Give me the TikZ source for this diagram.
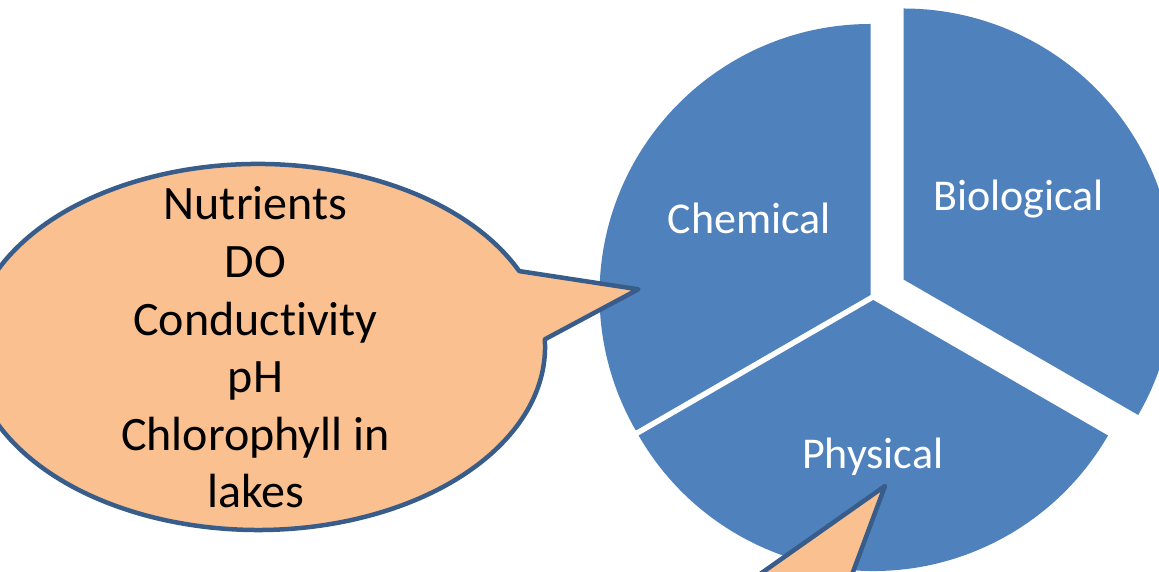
\documentclass[tikz,border=0pt]{standalone}
\usepackage{fontspec}
\setmainfont{Carlito}[Ligatures=CommonOff]
\usetikzlibrary{calc}
\definecolor{pieblue}{HTML}{4F81BD}
\definecolor{calloutfill}{HTML}{FAC090}
\definecolor{calloutline}{HTML}{385D8A}
\begin{document}
\begin{tikzpicture}[x=1pt,y=1pt,
  slice/.style={fill=pieblue},
  slicelabel/.style={text=white, font=\fontsize{44}{52.8}\selectfont, inner sep=0pt, anchor=base},
  callout/.style={fill=calloutfill, draw=calloutline, line width=4.5pt, line join=round},
  callouttext/.style={text=black, font=\fontsize{48}{57.6}\selectfont, inner sep=0pt, anchor=base}]
\useasboundingbox (0,0) rectangle (1159,572);
\clip (0,0) rectangle (1159,572);
% pie centres
\coordinate (cChem) at (870.5,277);
\coordinate (cPhys) at (873.3,272);
\coordinate (cBio) at (903.5,292.5);
% slices
\fill[slice] (cChem) -- ++(90:271pt) arc[start angle=90, end angle=210, radius=271pt] -- cycle;
\fill[slice] (cPhys) -- ++(210:271pt) arc[start angle=210, end angle=330, radius=271pt] -- cycle;
\fill[slice] (cBio) -- ++(-30:271pt) arc[start angle=-30, end angle=90, radius=271pt] -- cycle;
% labels
\node[slicelabel] (chem) at (749.3,338.7) {Chemical};
\node[slicelabel] (bio) at (1018.5,361.5) {Biological};
\node[slicelabel] (phys) at (872.7,103) {Physical};
% left callout
\coordinate (tipA) at (638.3,282.7);
\coordinate (ellA) at (258,225);
\filldraw[callout] (tipA) -- ($(ellA)+(261.2,75.9)$) arc[start angle=24.5, end angle=362.4, x radius=287pt, y radius=183pt] -- cycle;
\node[callouttext] (params) at (255.5,352) {\begin{tabular}[t]{@{}c@{}}Nutrients\\DO\\Conductivity\\pH\\Chlorophyll in\\lakes\end{tabular}};
% bottom callout tail
\coordinate (tipB) at (885,86);
\coordinate (tailL) at (720.4,-30);
\coordinate (tailR) at (841.8,-30);
\filldraw[callout] (tailL) -- (tipB) -- (tailR) -- cycle;
\end{tikzpicture}
\end{document}
